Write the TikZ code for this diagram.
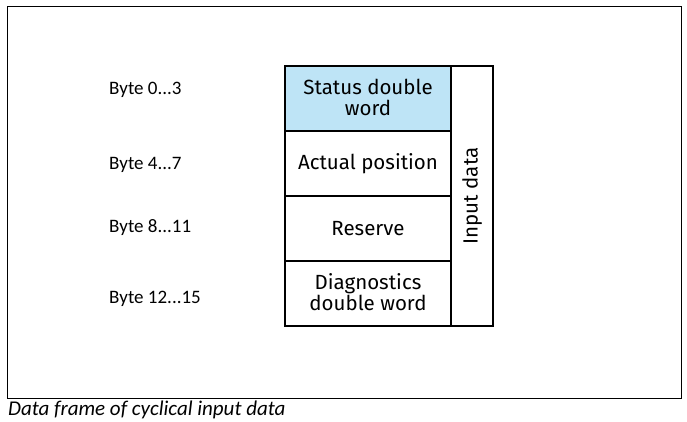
\documentclass[tikz,border=0pt]{standalone}
\usepackage{fontspec}
\setmainfont{Carlito}
\newfontfamily\boxfont{Fira Sans}
\begin{document}
\begin{tikzpicture}[x=1pt,y=1pt,
  cell/.style={draw=black, line width=1.4pt, minimum width=166pt, minimum height=65pt,
    inner sep=0pt, outer sep=0pt, align=center, font=\boxfont\fontsize{20.5}{21}\selectfont, anchor=north west},
  twoline/.style={text depth=3pt},
  bytelabel/.style={anchor=west, font=\fontsize{19}{21}\selectfont, inner sep=0pt}]
  \useasboundingbox (0,0) rectangle (687,422);
  \fill[white] (0,0) rectangle (687,422);
  % outer frame
  \draw[line width=0.8pt] (7,24) rectangle (681,416);
  % caption
  \node[anchor=base west, inner sep=0pt, font=\itshape\fontsize{21}{23}\selectfont] (cap) at (8,6) {Data frame of cyclical input data};
  % data cells
  \node[cell, twoline, fill={rgb,255:red,190;green,228;blue,246}] (c1) at (285,356) {Status double\\word};
  \node[cell] (c2) at (c1.south west) {Actual position};
  \node[cell] (c3) at (c2.south west) {Reserve};
  \node[cell, twoline] (c4) at (c3.south west) {Diagnostics\\double word};
  % side frame
  \node[draw=black, line width=1.4pt, anchor=north west, minimum width=42pt, minimum height=260pt, inner sep=0pt, outer sep=0pt] (side) at (c1.north east) {};
  \node[rotate=90, font=\boxfont\fontsize{20.5}{21}\selectfont] (lbl) at (side.center) {Input data};
  % byte labels
  \node[bytelabel] (b1) at (109,332) {Byte 0...3};
  \node[bytelabel] (b2) at (109,257) {Byte 4...7};
  \node[bytelabel] (b3) at (109,194) {Byte 8...11};
  \node[bytelabel] (b4) at (109,123) {Byte 12...15};
\end{tikzpicture}
\end{document}
